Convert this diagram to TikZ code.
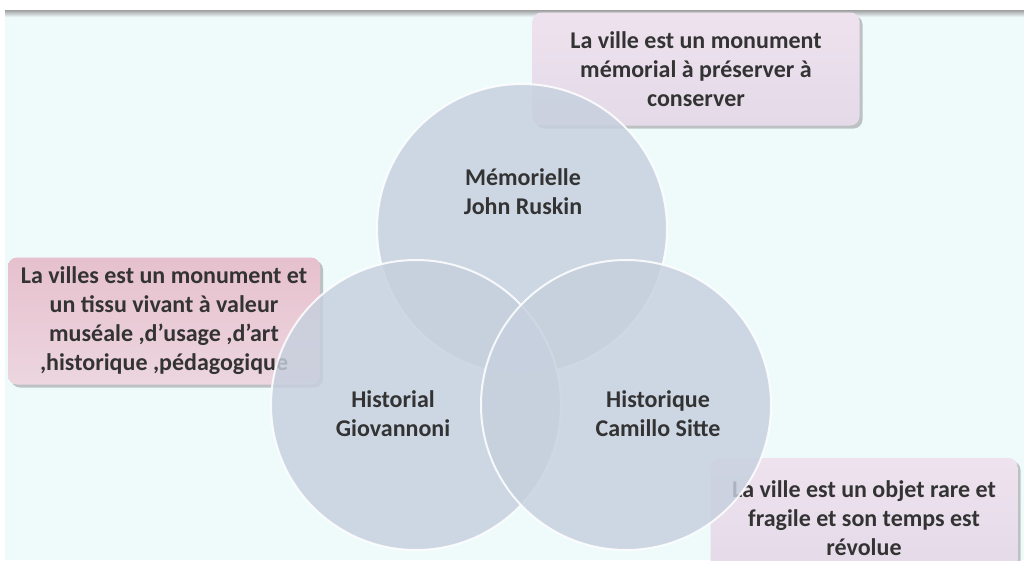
\documentclass[tikz,border=0pt]{standalone}
\usepackage{fontspec}
\setmainfont{Carlito}
\usetikzlibrary{shadows}
\definecolor{bgcyan}{HTML}{EFFAFB}
\definecolor{vennfill}{HTML}{C6D0DE}
\definecolor{notelav}{HTML}{EEE2EE}
\definecolor{notelavlow}{HTML}{E4DAE8}
\definecolor{notepink}{HTML}{E6C0CD}
\definecolor{notepinklow}{HTML}{ECD6DF}
\tikzset{
  notebox/.style={rounded corners=9pt,align=center,inner sep=0pt,text=black!80,
    drop shadow={shadow xshift=3pt,shadow yshift=-3pt,opacity=0.45,fill=gray}},
  vennring/.style={circle,minimum size=290pt,inner sep=0pt,fill=vennfill,
    fill opacity=0.82,draw=white,draw opacity=0.85,line width=2pt},
  venntext/.style={align=center,text=black!80}
}
\begin{document}
\begin{tikzpicture}[x=1pt,y=-1pt,font=\fontsize{24}{29}\selectfont\bfseries]
        \useasboundingbox (0,0) rectangle (1024,560);
        \clip (0,0) rectangle (1024,560);
        \fill[white] (0,0) rectangle (1024,560);
        \fill[bgcyan] (5,10) rectangle (1024,560);
        \fill[top color=gray!75,bottom color=bgcyan] (5,10) rectangle (1024,17);
        \node[notebox,top color=notepink,bottom color=notepinklow,minimum width=312pt,minimum height=127pt] (leftnote) at (164,321)
            {La villes est un monument et\\un tissu vivant à valeur\\muséale ,d'usage ,d'art\\,historique ,pédagogique};
        \node[notebox,top color=notelav,bottom color=notelavlow,minimum width=327pt,minimum height=113pt] (topnote) at (696,69)
            {La ville est un monument\\mémorial à préserver à\\conserver};
        \node[notebox,top color=notelav,bottom color=notelavlow,minimum width=307pt,minimum height=120pt] (rightnote) at (864,518)
            {La ville est un objet rare et\\fragile et son temps est\\révolue};
        \node[vennring] (memo) at (522,229) {};
        \node[vennring] (histl) at (416,405) {};
        \node[vennring] (histq) at (626,405) {};
        \node[venntext] (memotext) at (523,192) {Mémorielle\\John Ruskin};
        \node[venntext] (histltext) at (393,414) {Historial\\Giovannoni};
        \node[venntext] (histqtext) at (658,414) {Historique\\Camillo Sitte};
    \end{tikzpicture}
\end{document}
